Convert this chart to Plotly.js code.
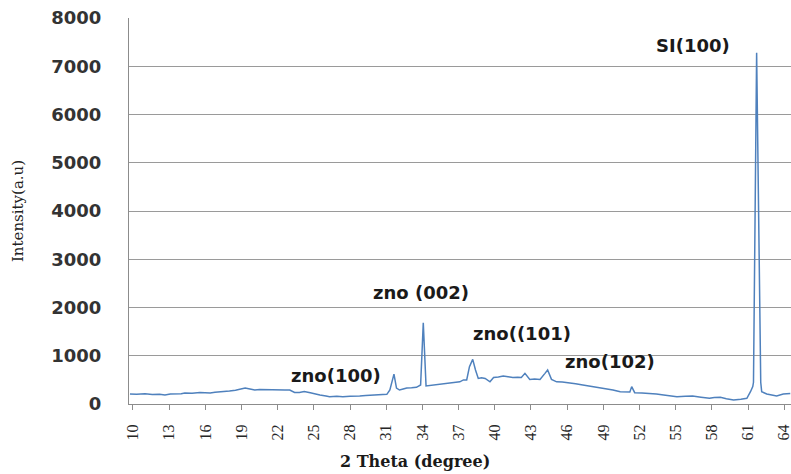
<!DOCTYPE html>
<html>
<head>
<meta charset="utf-8">
<script src="https://cdn.plot.ly/plotly-3.0.1.min.js"></script>
<style>
html,body{margin:0;padding:0;background:#fff;}
#chart{width:791px;height:474px;}
</style>
</head>
<body>
<div id="chart"></div>
<script>
// 2θ positions (degree)
const twoTheta = [
  9.75, 10.3, 11.0, 11.6, 12.2, 12.65, 13.1, 13.5, 14.0, 14.3, 14.9, 15.55, 16.0, 16.4, 16.8,
  17.2, 17.6, 18.0, 18.5, 18.9, 19.3, 19.7, 20.1, 20.5, 21.0, 21.4, 22.0, 22.6, 23.0, 23.4,
  23.8, 24.2, 24.7, 25.1, 25.5, 26.0, 26.3, 26.9, 27.4, 28.0, 28.4, 28.8, 29.3, 29.9, 30.4,
  30.8, 31.05, 31.3, 31.64, 31.85, 32.1, 32.4, 32.7, 33.1, 33.5, 33.85, 34.07, 34.3, 34.6, 34.9,
  35.4, 35.8, 36.3, 36.8, 37.1, 37.4, 37.67, 37.9, 38.17, 38.4, 38.63, 38.9, 39.2, 39.6, 39.9,
  40.3, 40.7, 41.1, 41.5, 41.9, 42.2, 42.5, 42.9, 43.3, 43.75, 44.16, 44.38, 44.7, 45.13, 45.6,
  46.2, 46.7, 47.3, 48.0, 48.7, 49.2, 49.8, 50.4, 50.9, 51.2, 51.35, 51.6, 52.2, 52.9, 53.4,
  54.0, 54.5, 55.1, 55.8, 56.4, 57.1, 57.8, 58.2, 58.7, 59.2, 59.8, 60.4, 60.9, 61.2, 61.39,
  61.45, 61.71, 62.05, 62.13, 62.55, 63.0, 63.37, 63.92, 64.5
];
// Intensity (a.u)
const intensity = [
  205, 200, 210, 195, 200, 185, 205, 205, 215, 230, 225, 240, 235, 230, 245,
  250, 255, 270, 285, 300, 330, 310, 290, 300, 295, 290, 292, 290, 290, 240,
  240, 260, 235, 205, 185, 165, 150, 160, 150, 160, 170, 165, 175, 185, 180,
  195, 200, 290, 620, 330, 290, 310, 330, 335, 345, 395, 1685, 375, 385, 395,
  410, 420, 440, 465, 460, 500, 500, 775, 925, 705, 530, 545, 530, 460, 550,
  560, 580, 565, 550, 555, 550, 635, 510, 520, 510, 635, 705, 510, 460, 455,
  440, 420, 395, 370, 345, 320, 290, 255, 255, 250, 360, 235, 230, 220, 205,
  185, 170, 150, 160, 165, 140, 118, 135, 140, 110, 83, 100, 118, 255, 360,
  450, 7280, 450, 255, 207, 190, 166, 207, 220
];
const xTickValues = [10, 13, 16, 19, 22, 25, 28, 31, 34, 37, 40, 43, 46, 49, 52, 55, 58, 61, 64];
const yTickValues = [0, 1000, 2000, 3000, 4000, 5000, 6000, 7000, 8000];
const peakLabels = ["SI(100)", "zno (002)", "zno((101)", "zno(102)", "zno(100)"];
const peakLabelX = [56.43, 33.88, 42.26, 49.55, 26.83];
const peakLabelY = [7440, 2321, 1451, 891, 601];
const xTitle = "2 Theta (degree)";
const yTitle = "Intensity(a.u)";

const annFont = {family: "DejaVu Sans", size: 18, color: "#1a1a1a", weight: "bold"};
const annotations = peakLabels.map((t, i) => ({
  text: "<b>" + t + "</b>", x: peakLabelX[i], y: peakLabelY[i], xref: "x", yref: "y",
  showarrow: false, font: annFont, xanchor: "center", yanchor: "middle"
}));
// x-axis title, placed where the reference puts it (left of plot centre)
annotations.push({
  text: "<b>" + xTitle + "</b>", xref: "paper", yref: "paper", x: 0.432, y: -0.148,
  xanchor: "center", yanchor: "middle", showarrow: false, borderpad: 0,
  font: {family: "DejaVu Serif", size: 16, color: "#1a1a1a"}
});

const trace = {
  x: twoTheta, y: intensity, type: "scatter", mode: "lines",
  line: {color: "#4f81bd", width: 1.5}, hoverinfo: "skip"
};

const layout = {
  width: 791, height: 474,
  margin: {l: 129, r: 0, t: 18, b: 70},
  paper_bgcolor: "#ffffff", plot_bgcolor: "#ffffff",
  showlegend: false,
  xaxis: {
    range: [9.67, 64.56], tickmode: "array", tickvals: xTickValues,
    ticktext: xTickValues.map(String), tickangle: -90,
    tickfont: {family: "Liberation Serif", size: 16, color: "#262626"},
    ticks: "outside", ticklen: 5, tickcolor: "#8c8c8c", ticklabelstandoff: 8,
    ticklabeloverflow: "allow",
    showgrid: false, zeroline: false, showline: true, linecolor: "#8c8c8c", linewidth: 1
  },
  yaxis: {
    range: [0, 8000], tickmode: "array", tickvals: yTickValues,
    ticktext: yTickValues.map(String),
    tickfont: {family: "DejaVu Sans", size: 18, color: "#333", weight: "bold"},
    ticks: "", ticklabelstandoff: 23,
    showgrid: true, gridcolor: "#9a9a9a", gridwidth: 1,
    zeroline: false, showline: true, linecolor: "#8c8c8c", linewidth: 1,
    title: {text: yTitle, font: {family: "DejaVu Serif", size: 15, color: "#222"}, standoff: 24}
  },
  annotations: annotations
};

Plotly.newPlot("chart", [trace], layout, {staticPlot: true, displayModeBar: false});
</script>
</body>
</html>
